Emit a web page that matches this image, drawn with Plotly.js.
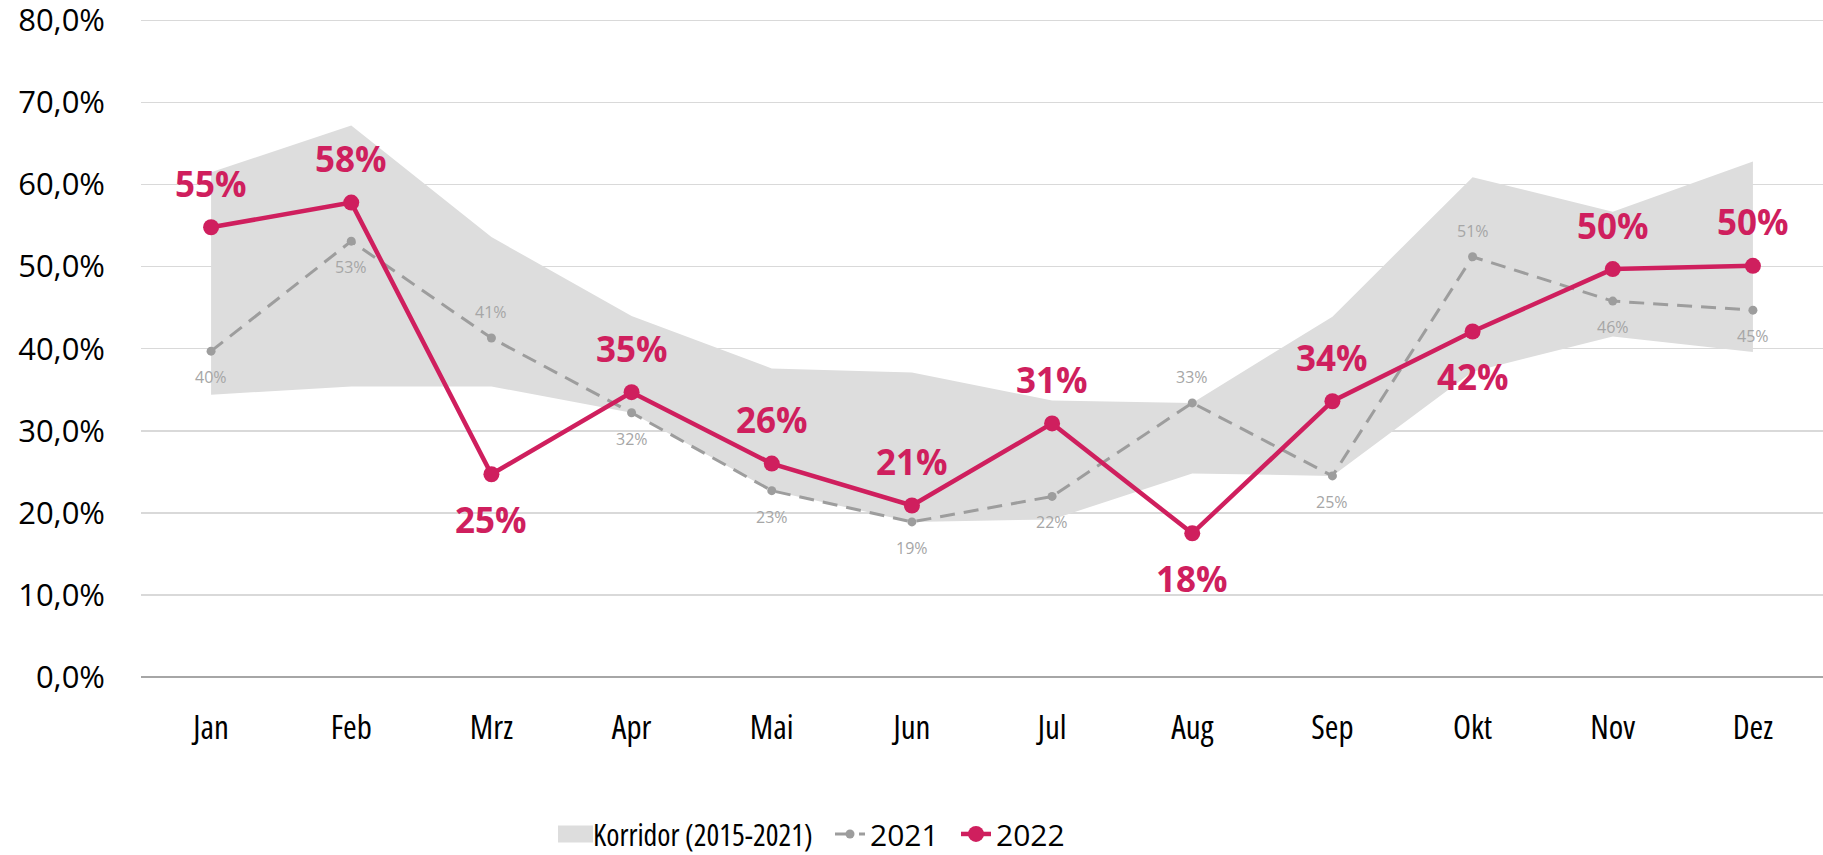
<!DOCTYPE html>
<html>
<head>
<meta charset="utf-8">
<script src="https://cdn.plot.ly/plotly-3.0.1.min.js"></script>
<style>
  html, body { margin: 0; padding: 0; background: #ffffff; }
  #chart { width: 1823px; height: 855px; }
  .xtick text, text.legendtext { font-stretch: 75% !important; }
</style>
</head>
<body>
<div id="chart"></div>
<script>
// ---- data (values in percent) ----
const months = ["Jan", "Feb", "Mrz", "Apr", "Mai", "Jun", "Jul", "Aug", "Sep", "Okt", "Nov", "Dez"];
const corridorLow  = [34.4, 35.4, 35.4, 32.2, 22.7, 18.9, 19.2, 24.8, 24.5, 37.2, 41.5, 39.6];
const corridorHigh = [61.5, 67.2, 53.6, 44.0, 37.6, 37.1, 33.7, 33.4, 43.9, 60.9, 56.7, 62.8];
const values2021 = [39.7, 53.1, 41.3, 32.2, 22.7, 18.9, 22.0, 33.4, 24.5, 51.2, 45.8, 44.7];
const values2022 = [54.8, 57.8, 24.7, 34.7, 26.0, 20.9, 30.9, 17.5, 33.6, 42.1, 49.7, 50.1];
const labelSide2021 = ["below", "below", "above", "below", "below", "below", "below", "above", "below", "above", "below", "below"];
const labelSide2022 = ["above", "above", "below", "above", "above", "above", "above", "below", "above", "below", "above", "above"];
const yTicks = [0, 10, 20, 30, 40, 50, 60, 70, 80];
const yTickText = ["0,0%", "10,0%", "20,0%", "30,0%", "40,0%", "50,0%", "60,0%", "70,0%", "80,0%"];

const PINK = "#cf1f5e";
const GREY = "#9d9d9d";
const BAND = "#dddddd";
const SANS = "'Open Sans', 'Noto Sans', sans-serif";

const traces = [
  {
    x: months, y: corridorLow, type: "scatter", mode: "lines",
    line: { width: 0, color: BAND }, showlegend: false, hoverinfo: "skip"
  },
  {
    x: months, y: corridorHigh, type: "scatter", mode: "lines",
    name: "Korridor (2015-2021)", fill: "tonexty", fillcolor: BAND,
    line: { width: 0, color: BAND }, hoverinfo: "skip", legend: "legend"
  },
  {
    x: months, y: values2021, type: "scatter", mode: "lines+markers", name: "2021",
    line: { color: GREY, width: 3, dash: "15px,9px" },
    marker: { color: GREY, size: 9 }, legend: "legend2"
  },
  {
    x: months, y: values2022, type: "scatter", mode: "lines+markers", name: "2022",
    line: { color: PINK, width: 4.5 },
    marker: { color: PINK, size: 16 }, legend: "legend3"
  }
];

const annotations = [];
months.forEach((m, i) => {
  annotations.push({
    x: m, y: values2022[i], xref: "x", yref: "y",
    text: Math.round(values2022[i]) + "%", showarrow: false,
    yshift: labelSide2022[i] === "above" ? 44 : -45,
    font: { family: SANS, size: 35, color: PINK, weight: 700 }
  });
  annotations.push({
    x: m, y: values2021[i], xref: "x", yref: "y",
    text: Math.round(values2021[i]) + "%", showarrow: false,
    yshift: labelSide2021[i] === "above" ? 26 : -26,
    font: { family: SANS, size: 16, color: "#a6a6a6" }
  });
});

function legendAt(xPx) {
  return {
    orientation: "h", traceorder: "normal",
    xref: "container", yref: "container",
    x: xPx / 1823, xanchor: "left", y: 0.0246, yanchor: "middle",
    bgcolor: "rgba(0,0,0,0)",
    font: { family: SANS, size: 30, color: "#000000" },
    itemwidth: 30, tracegroupgap: 0
  };
}

const layout = {
  width: 1823, height: 855,
  paper_bgcolor: "#ffffff", plot_bgcolor: "#ffffff",
  margin: { l: 141, r: 0, t: 4, b: 178 },
  showlegend: true,
  xaxis: {
    type: "category", categoryarray: months, range: [-0.5, 11.5],
    showgrid: false, zeroline: false, showline: false,
    ticks: "", ticklabelstandoff: 28,
    tickfont: { family: SANS, size: 33, color: "#000000" }
  },
  yaxis: {
    range: [0, 82], tickmode: "array", tickvals: yTicks, ticktext: yTickText,
    showgrid: true, gridcolor: "#d9d9d9", gridwidth: 1.5,
    zeroline: true, zerolinecolor: "#a6a6a6", zerolinewidth: 1.5,
    showline: false, ticks: "", ticklabelstandoff: 35, ticklabeloverflow: "allow",
    tickfont: { family: SANS, size: 31, color: "#000000" }
  },
  legend: legendAt(553),
  legend2: legendAt(830),
  legend3: legendAt(956),
  annotations: annotations
};

Plotly.newPlot("chart", traces, layout, { displayModeBar: false, staticPlot: true }).then(() => {
  // make the corridor legend swatch a filled box like the original
  document.querySelectorAll("#chart .legendfill path").forEach(p => {
    p.setAttribute("d", "M5,-8.5h35v17h-35z");
    p.style.fill = BAND;
    p.style.fillOpacity = 1;
  });
  document.querySelectorAll("#chart text.legendtext").forEach(t => {
    t.style.fontStretch = "75%";
  });
});
</script>
</body>
</html>
